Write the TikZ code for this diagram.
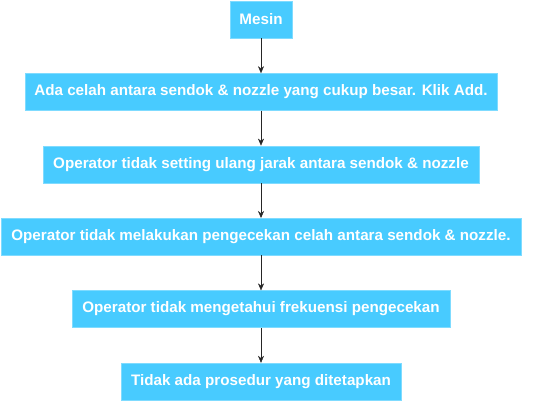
\documentclass[tikz,border=0pt]{standalone}
\usepackage{fontspec}
\setmainfont{Liberation Sans}
\usepackage{xcolor}
\usepackage{tikz}
\usetikzlibrary{positioning}
\usetikzlibrary{arrows.meta}
\definecolor{boxcyan}{HTML}{48CBFF}

\begin{document}
\begin{tikzpicture}[x=1pt, y=1pt, node distance=35pt,
  box/.style={fill=boxcyan, draw=boxcyan!70!white, text=white,
    font=\bfseries\fontsize{15.2}{17}\selectfont,
    minimum height=37pt, inner xsep=3pt},
  arr/.style={-{Stealth[length=7pt,width=6pt]}, black!85}]
\useasboundingbox (0,0) rectangle (548,-401);
\node[box, minimum width=62pt] (mesin) at (261,-19.5) {Mesin};
\node[box, below=of mesin, minimum width=472pt] (celah) {Ada celah antara sendok \& nozzle yang cukup besar. Klik Add.};
\node[box, below=of celah, minimum width=436pt] (setting) {Operator tidak setting ulang jarak antara sendok \& nozzle};
\node[box, below=of setting, minimum width=520pt] (cek) {Operator tidak melakukan pengecekan celah antara sendok \& nozzle.};
\node[box, below=of cek, minimum width=378pt] (frek) {Operator tidak mengetahui frekuensi pengecekan};
\node[box, below=of frek, minimum width=280pt] (prosedur) {Tidak ada prosedur yang ditetapkan};

\draw[arr] (mesin) -- (celah);
\draw[arr] (celah) -- (setting);
\draw[arr] (setting) -- (cek);
\draw[arr] (cek) -- (frek);
\draw[arr] (frek) -- (prosedur);
\end{tikzpicture}
\end{document}
